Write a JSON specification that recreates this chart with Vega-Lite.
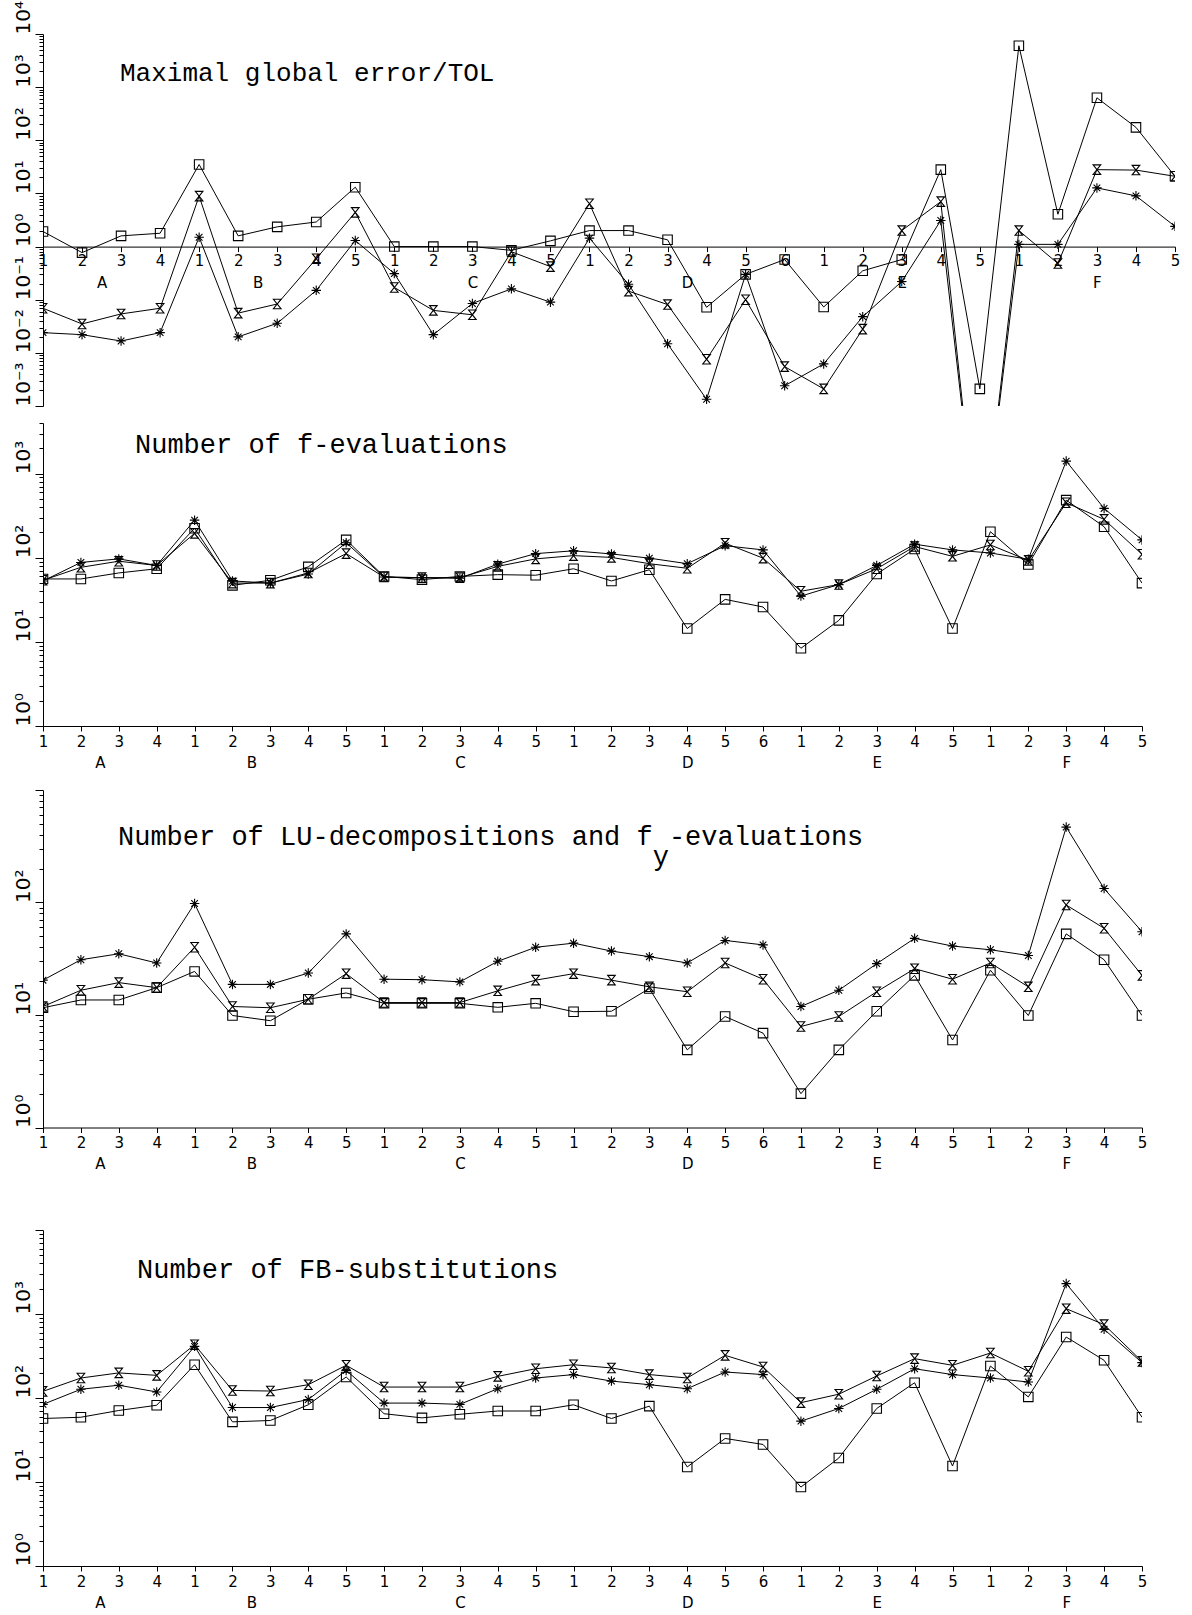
{
  "$schema": "https://vega.github.io/schema/vega-lite/v6.json",
  "background": "white",
  "padding": {"left": 12, "top": 0, "right": 5, "bottom": 5},
  "config": {"view": {"stroke": null}},
  "datasets": {
    "p1": [
      {"prob":"A1","i":0,"sq":1.92,"hg":0.069,"st":0.024},
      {"prob":"A2","i":1,"sq":0.77,"hg":0.035,"st":0.022},
      {"prob":"A3","i":2,"sq":1.59,"hg":0.054,"st":0.0167},
      {"prob":"A4","i":3,"sq":1.78,"hg":0.069,"st":0.024},
      {"prob":"B1","i":4,"sq":35,"hg":8.9,"st":1.5},
      {"prob":"B2","i":5,"sq":1.59,"hg":0.056,"st":0.020},
      {"prob":"B3","i":6,"sq":2.35,"hg":0.083,"st":0.036},
      {"prob":"B4","i":7,"sq":2.9,"hg":0.59,"st":0.15},
      {"prob":"B5","i":8,"sq":13.1,"hg":4.4,"st":1.3},
      {"prob":"C1","i":9,"sq":1.0,"hg":0.17,"st":0.31},
      {"prob":"C2","i":10,"sq":1.0,"hg":0.063,"st":0.022},
      {"prob":"C3","i":11,"sq":1.0,"hg":0.052,"st":0.085},
      {"prob":"C4","i":12,"sq":0.85,"hg":0.8,"st":0.16},
      {"prob":"C5","i":13,"sq":1.28,"hg":0.42,"st":0.09},
      {"prob":"D1","i":14,"sq":2.0,"hg":6.4,"st":1.44},
      {"prob":"D2","i":15,"sq":2.0,"hg":0.145,"st":0.195},
      {"prob":"D3","i":16,"sq":1.34,"hg":0.081,"st":0.0148},
      {"prob":"D4","i":17,"sq":0.072,"hg":0.0076,"st":0.00134},
      {"prob":"D5","i":18,"sq":0.30,"hg":0.10,"st":0.30},
      {"prob":"D6","i":19,"sq":0.57,"hg":0.0055,"st":0.0024},
      {"prob":"E1","i":20,"sq":0.073,"hg":0.0021,"st":0.0062},
      {"prob":"E2","i":21,"sq":0.35,"hg":0.028,"st":0.048},
      {"prob":"E3","i":22,"sq":0.57,"hg":2.0,"st":0.22},
      {"prob":"E4","i":23,"sq":28,"hg":7.0,"st":3.1},
      {"prob":"E5","i":24,"sq":0.0021,"hg":0.000001,"st":0.000001},
      {"prob":"F1","i":25,"sq":6000,"hg":2.0,"st":1.1},
      {"prob":"F2","i":26,"sq":4.06,"hg":0.48,"st":1.1},
      {"prob":"F3","i":27,"sq":630,"hg":28,"st":12.7},
      {"prob":"F4","i":28,"sq":175,"hg":27.5,"st":9},
      {"prob":"F5","i":29,"sq":21,"hg":21,"st":2.4}
    ],
    "p2": [
      {"prob":"A1","i":0,"sq":56,"hg":54,"st":53},
      {"prob":"A2","i":1,"sq":56,"hg":77,"st":88},
      {"prob":"A3","i":2,"sq":66,"hg":91,"st":97},
      {"prob":"A4","i":3,"sq":74,"hg":81,"st":81},
      {"prob":"B1","i":4,"sq":224,"hg":195,"st":280},
      {"prob":"B2","i":5,"sq":47,"hg":50,"st":53},
      {"prob":"B3","i":6,"sq":54,"hg":50,"st":50},
      {"prob":"B4","i":7,"sq":78,"hg":66,"st":64},
      {"prob":"B5","i":8,"sq":163,"hg":112,"st":151},
      {"prob":"C1","i":9,"sq":60,"hg":59,"st":59},
      {"prob":"C2","i":10,"sq":55,"hg":58,"st":58},
      {"prob":"C3","i":11,"sq":60,"hg":58,"st":57},
      {"prob":"C4","i":12,"sq":63,"hg":79,"st":84},
      {"prob":"C5","i":13,"sq":62,"hg":97,"st":112},
      {"prob":"D1","i":14,"sq":74,"hg":106,"st":121},
      {"prob":"D2","i":15,"sq":53,"hg":101,"st":111},
      {"prob":"D3","i":16,"sq":72,"hg":85,"st":99},
      {"prob":"D4","i":17,"sq":14.4,"hg":75,"st":85},
      {"prob":"D5","i":18,"sq":32,"hg":149,"st":139},
      {"prob":"D6","i":19,"sq":26,"hg":99,"st":124},
      {"prob":"E1","i":20,"sq":8.4,"hg":40,"st":35},
      {"prob":"E2","i":21,"sq":18,"hg":48,"st":48},
      {"prob":"E3","i":22,"sq":64,"hg":74,"st":81},
      {"prob":"E4","i":23,"sq":127,"hg":136,"st":145},
      {"prob":"E5","i":24,"sq":14.4,"hg":104,"st":124},
      {"prob":"F1","i":25,"sq":204,"hg":142,"st":114},
      {"prob":"F2","i":26,"sq":83,"hg":93,"st":96},
      {"prob":"F3","i":27,"sq":484,"hg":450,"st":1410},
      {"prob":"F4","i":28,"sq":234,"hg":286,"st":386},
      {"prob":"F5","i":29,"sq":50,"hg":110,"st":163}
    ],
    "p3": [
      {"prob":"A1","i":0,"sq":11.6,"hg":11.9,"st":20.4},
      {"prob":"A2","i":1,"sq":13.6,"hg":16.6,"st":31},
      {"prob":"A3","i":2,"sq":13.6,"hg":19.4,"st":35},
      {"prob":"A4","i":3,"sq":17.5,"hg":17.5,"st":29},
      {"prob":"B1","i":4,"sq":24.4,"hg":40,"st":98},
      {"prob":"B2","i":5,"sq":9.9,"hg":11.9,"st":18.7},
      {"prob":"B3","i":6,"sq":8.9,"hg":11.6,"st":18.7},
      {"prob":"B4","i":7,"sq":13.8,"hg":13.8,"st":23.6},
      {"prob":"B5","i":8,"sq":15.7,"hg":23.3,"st":52.6},
      {"prob":"C1","i":9,"sq":12.7,"hg":12.9,"st":20.8},
      {"prob":"C2","i":10,"sq":12.7,"hg":12.9,"st":20.6},
      {"prob":"C3","i":11,"sq":12.7,"hg":12.9,"st":19.7},
      {"prob":"C4","i":12,"sq":11.7,"hg":16.4,"st":30},
      {"prob":"C5","i":13,"sq":12.7,"hg":20.4,"st":40},
      {"prob":"D1","i":14,"sq":10.7,"hg":23.3,"st":43.5},
      {"prob":"D2","i":15,"sq":10.8,"hg":20.4,"st":37},
      {"prob":"D3","i":16,"sq":17.2,"hg":17.8,"st":33},
      {"prob":"D4","i":17,"sq":4.9,"hg":16.1,"st":29},
      {"prob":"D5","i":18,"sq":9.7,"hg":29,"st":46},
      {"prob":"D6","i":19,"sq":6.9,"hg":20.8,"st":42},
      {"prob":"E1","i":20,"sq":2.0,"hg":7.9,"st":11.9},
      {"prob":"E2","i":21,"sq":4.9,"hg":9.7,"st":16.6},
      {"prob":"E3","i":22,"sq":10.8,"hg":16.1,"st":28.6},
      {"prob":"E4","i":23,"sq":22.5,"hg":25.8,"st":48},
      {"prob":"E5","i":24,"sq":6.0,"hg":20.8,"st":41},
      {"prob":"F1","i":25,"sq":25,"hg":29,"st":38},
      {"prob":"F2","i":26,"sq":9.9,"hg":17.8,"st":33.8},
      {"prob":"F3","i":27,"sq":52.6,"hg":95,"st":468},
      {"prob":"F4","i":28,"sq":31,"hg":59,"st":133},
      {"prob":"F5","i":29,"sq":9.9,"hg":22.5,"st":55}
    ],
    "p4": [
      {"prob":"A1","i":0,"sq":57,"hg":120,"st":84},
      {"prob":"A2","i":1,"sq":59,"hg":173,"st":127},
      {"prob":"A3","i":2,"sq":71,"hg":199,"st":142},
      {"prob":"A4","i":3,"sq":82,"hg":186,"st":118},
      {"prob":"B1","i":4,"sq":249,"hg":431,"st":412},
      {"prob":"B2","i":5,"sq":52,"hg":123,"st":77},
      {"prob":"B3","i":6,"sq":54,"hg":121,"st":77},
      {"prob":"B4","i":7,"sq":83,"hg":144,"st":96},
      {"prob":"B5","i":8,"sq":178,"hg":245,"st":213},
      {"prob":"C1","i":9,"sq":65,"hg":135,"st":87},
      {"prob":"C2","i":10,"sq":58,"hg":135,"st":87},
      {"prob":"C3","i":11,"sq":64,"hg":135,"st":84},
      {"prob":"C4","i":12,"sq":70,"hg":181,"st":129},
      {"prob":"C5","i":13,"sq":70,"hg":223,"st":173},
      {"prob":"D1","i":14,"sq":83,"hg":249,"st":190},
      {"prob":"D2","i":15,"sq":57,"hg":228,"st":159},
      {"prob":"D3","i":16,"sq":80,"hg":190,"st":144},
      {"prob":"D4","i":17,"sq":15.1,"hg":173,"st":129},
      {"prob":"D5","i":18,"sq":33,"hg":322,"st":204},
      {"prob":"D6","i":19,"sq":28,"hg":234,"st":190},
      {"prob":"E1","i":20,"sq":8.7,"hg":88,"st":53},
      {"prob":"E2","i":21,"sq":19.3,"hg":111,"st":75},
      {"prob":"E3","i":22,"sq":75,"hg":183,"st":127},
      {"prob":"E4","i":23,"sq":152,"hg":294,"st":223},
      {"prob":"E5","i":24,"sq":15.5,"hg":245,"st":190},
      {"prob":"F1","i":25,"sq":240,"hg":343,"st":173},
      {"prob":"F2","i":26,"sq":103,"hg":208,"st":155},
      {"prob":"F3","i":27,"sq":532,"hg":1157,"st":2300},
      {"prob":"F4","i":28,"sq":281,"hg":747,"st":657},
      {"prob":"F5","i":29,"sq":59,"hg":273,"st":264}
    ]
  },
  "bounds": "flush",
  "spacing": 17,
  "vconcat": [
    {
      "width": 1132, "height": 372,
      "title": {"text": "Maximal global error/TOL", "anchor": "start", "frame": "group", "orient": "top", "offset": 0, "dx": 77, "dy": 98, "baseline": "middle", "font": "Liberation Mono", "fontSize": 26, "fontWeight": "normal", "color": "black"},
      "data": {"name": "p1"},
      "transform": [{"fold": ["sq", "hg", "st"], "as": ["s", "v"]}],
      "encoding": {
        "x": {"field": "i", "type": "quantitative", "scale": {"domain": [0, 29], "nice": false, "zero": false},
          "axis": {"values": [0,1,1.5,2,3,4,5,5.5,6,7,8,9,10,11,12,13,14,15,16,16.5,17,18,19,20,21,22,23,24,25,26,27,28,29],
            "labelExpr": "datum.value == 1.5 ? ['', 'A'] : datum.value == 5.5 ? ['', 'B'] : datum.value == 16.5 ? ['', 'D'] : ['' + (datum.value < 4 ? datum.value + 1 : datum.value < 9 ? datum.value - 3 : datum.value < 14 ? datum.value - 8 : datum.value < 20 ? datum.value - 13 : datum.value < 25 ? datum.value - 19 : datum.value - 24), datum.value == 11 ? 'C' : datum.value == 22 ? 'E' : datum.value == 27 ? 'F' : '']",
            "offset": -159.4, "title": null, "grid": false, "tickSize": 5,
            "tickColor": {"condition": {"test": "datum.value % 1 != 0", "value": "transparent"}, "value": "black"},
            "domainColor": "black", "labelFont": "DejaVu Sans", "labelFontSize": 15, "labelColor": "black", "labelLineHeight": 22, "labelPadding": 2,
            "labelOverlap": false, "labelFlush": false, "labelBound": false, "labelAlign": "center", "labelBaseline": "top"}},
        "y": {"field": "v", "type": "quantitative", "scale": {"type": "log", "domain": [0.001, 10000], "nice": false},
          "axis": {"values": [0.001,0.002,0.003,0.004,0.005,0.006,0.007,0.008,0.009,0.01,0.02,0.03,0.04,0.05,0.06,0.07,0.08,0.09,0.1,0.2,0.3,0.4,0.5,0.6,0.7,0.8,0.9,1,2,3,4,5,6,7,8,9,10,20,30,40,50,60,70,80,90,100,200,300,400,500,600,700,800,900,1000,2000,3000,4000,5000,6000,7000,8000,9000,10000],
            "labelExpr": "abs(log(datum.value)/LN10 - round(log(datum.value)/LN10)) > 0.01 ? '' : '10' + (datum.value < 0.5 ? '⁻' : '') + substring('⁰¹²³⁴⁵⁶⁷⁸⁹', abs(round(log(datum.value)/LN10)), abs(round(log(datum.value)/LN10)) + 1)",
            "title": null, "grid": false,
            "tickSize": {"condition": {"test": "abs(log(datum.value)/LN10 - round(log(datum.value)/LN10)) < 0.01", "value": 8}, "value": 4},
            "tickColor": "black", "domainColor": "black", "labelAngle": 270, "labelAlign": "left", "labelBaseline": "bottom", "labelPadding": 2,
            "labelFont": "DejaVu Sans", "labelFontSize": 20, "labelColor": "black", "labelOverlap": false, "labelFlush": false, "labelBound": false}}
      },
      "layer": [
        {"mark": {"type": "line", "color": "black", "strokeWidth": 1, "clip": true}, "encoding": {"detail": {"field": "s"}}},
        {"mark": {"type": "point", "filled": false, "color": "black", "strokeWidth": 1.1, "size": 90, "clip": true, "opacity": 1},
          "encoding": {"shape": {"field": "s", "type": "nominal", "legend": null, "scale": {"domain": ["sq", "hg", "st"], "range": ["square", "M-0.8,-1L0.8,-1L-0.8,1L0.8,1Z", "M-1,0L1,0M0,-1L0,1M-0.7,-0.7L0.7,0.7M-0.7,0.7L0.7,-0.7"]}}}}
      ]
    },
    {
      "width": 1099, "height": 303,
      "title": {"text": "Number of f-evaluations", "anchor": "start", "frame": "group", "orient": "top", "offset": 0, "dx": 92, "dy": 49, "baseline": "middle", "font": "Liberation Mono", "fontSize": 27, "fontWeight": "normal", "color": "black"},
      "data": {"name": "p2"},
      "transform": [{"fold": ["sq", "hg", "st"], "as": ["s", "v"]}],
      "encoding": {
        "x": {"field": "i", "type": "quantitative", "scale": {"domain": [0, 29], "nice": false, "zero": false},
          "axis": {"values": [0,1,1.5,2,3,4,5,5.5,6,7,8,9,10,11,12,13,14,15,16,17,18,19,20,21,22,23,24,25,26,27,28,29],
            "labelExpr": "datum.value == 1.5 ? ['', 'A'] : datum.value == 5.5 ? ['', 'B'] : ['' + (datum.value < 4 ? datum.value + 1 : datum.value < 9 ? datum.value - 3 : datum.value < 14 ? datum.value - 8 : datum.value < 20 ? datum.value - 13 : datum.value < 25 ? datum.value - 19 : datum.value - 24), datum.value == 11 ? 'C' : datum.value == 17 ? 'D' : datum.value == 22 ? 'E' : datum.value == 27 ? 'F' : '']",
            "title": null, "grid": false, "tickSize": 5,
            "tickColor": {"condition": {"test": "datum.value % 1 != 0", "value": "transparent"}, "value": "black"},
            "domainColor": "black", "labelFont": "DejaVu Sans", "labelFontSize": 15, "labelColor": "black", "labelLineHeight": 21, "labelPadding": 3,
            "labelOverlap": false, "labelFlush": false, "labelBound": false, "labelAlign": "center", "labelBaseline": "top"}},
        "y": {"field": "v", "type": "quantitative", "scale": {"type": "log", "domain": [1, 4000], "nice": false},
          "axis": {"values": [1,2,3,4,5,6,7,8,9,10,20,30,40,50,60,70,80,90,100,200,300,400,500,600,700,800,900,1000,2000,3000,4000],
            "labelExpr": "abs(log(datum.value)/LN10 - round(log(datum.value)/LN10)) > 0.01 ? '' : '10' + substring('⁰¹²³⁴⁵⁶⁷⁸⁹', abs(round(log(datum.value)/LN10)), abs(round(log(datum.value)/LN10)) + 1)",
            "title": null, "grid": false,
            "tickSize": {"condition": {"test": "abs(log(datum.value)/LN10 - round(log(datum.value)/LN10)) < 0.01", "value": 8}, "value": 4},
            "tickColor": "black", "domainColor": "black", "labelAngle": 270, "labelAlign": "left", "labelBaseline": "bottom", "labelPadding": 2,
            "labelFont": "DejaVu Sans", "labelFontSize": 20, "labelColor": "black", "labelOverlap": false, "labelFlush": false, "labelBound": false}}
      },
      "layer": [
        {"mark": {"type": "line", "color": "black", "strokeWidth": 1, "clip": true}, "encoding": {"detail": {"field": "s"}}},
        {"mark": {"type": "point", "filled": false, "color": "black", "strokeWidth": 1.1, "size": 90, "clip": true, "opacity": 1},
          "encoding": {"shape": {"field": "s", "type": "nominal", "legend": null, "scale": {"domain": ["sq", "hg", "st"], "range": ["square", "M-0.8,-1L0.8,-1L-0.8,1L0.8,1Z", "M-1,0L1,0M0,-1L0,1M-0.7,-0.7L0.7,0.7M-0.7,0.7L0.7,-0.7"]}}}}
      ]
    },
    {"width": 1099, "height": 30, "data": {"values": []}, "mark": {"type": "point", "opacity": 0}},
    {
      "width": 1099, "height": 337.5,
      "title": {"text": ["Number of LU-decompositions and f\u00a0-evaluations", "\u200b\u00a0\u00a0\u00a0\u00a0\u00a0\u00a0\u00a0\u00a0\u00a0\u00a0\u00a0\u00a0\u00a0\u00a0\u00a0\u00a0\u00a0\u00a0\u00a0\u00a0\u00a0\u00a0\u00a0\u00a0\u00a0\u00a0\u00a0\u00a0\u00a0\u00a0\u00a0\u00a0\u00a0y"], "lineHeight": 20, "anchor": "start", "frame": "group", "orient": "top", "offset": 0, "dx": 75, "dy": 94, "baseline": "middle", "font": "Liberation Mono", "fontSize": 27, "fontWeight": "normal", "color": "black"},
      "data": {"name": "p3"},
      "transform": [{"fold": ["sq", "hg", "st"], "as": ["s", "v"]}],
      "encoding": {
        "x": {"field": "i", "type": "quantitative", "scale": {"domain": [0, 29], "nice": false, "zero": false},
          "axis": {"values": [0,1,1.5,2,3,4,5,5.5,6,7,8,9,10,11,12,13,14,15,16,17,18,19,20,21,22,23,24,25,26,27,28,29],
            "labelExpr": "datum.value == 1.5 ? ['', 'A'] : datum.value == 5.5 ? ['', 'B'] : ['' + (datum.value < 4 ? datum.value + 1 : datum.value < 9 ? datum.value - 3 : datum.value < 14 ? datum.value - 8 : datum.value < 20 ? datum.value - 13 : datum.value < 25 ? datum.value - 19 : datum.value - 24), datum.value == 11 ? 'C' : datum.value == 17 ? 'D' : datum.value == 22 ? 'E' : datum.value == 27 ? 'F' : '']",
            "title": null, "grid": false, "tickSize": 5,
            "tickColor": {"condition": {"test": "datum.value % 1 != 0", "value": "transparent"}, "value": "black"},
            "domainColor": "black", "labelFont": "DejaVu Sans", "labelFontSize": 15, "labelColor": "black", "labelLineHeight": 21, "labelPadding": 3,
            "labelOverlap": false, "labelFlush": false, "labelBound": false, "labelAlign": "center", "labelBaseline": "top"}},
        "y": {"field": "v", "type": "quantitative", "scale": {"type": "log", "domain": [1, 1000], "nice": false},
          "axis": {"values": [1,2,3,4,5,6,7,8,9,10,20,30,40,50,60,70,80,90,100,200,300,400,500,600,700,800,900,1000],
            "labelExpr": "datum.value > 999 || abs(log(datum.value)/LN10 - round(log(datum.value)/LN10)) > 0.01 ? '' : '10' + substring('⁰¹²³⁴⁵⁶⁷⁸⁹', abs(round(log(datum.value)/LN10)), abs(round(log(datum.value)/LN10)) + 1)",
            "title": null, "grid": false,
            "tickSize": {"condition": {"test": "abs(log(datum.value)/LN10 - round(log(datum.value)/LN10)) < 0.01", "value": 8}, "value": 4},
            "tickColor": "black", "domainColor": "black", "labelAngle": 270, "labelAlign": "left", "labelBaseline": "bottom", "labelPadding": 2,
            "labelFont": "DejaVu Sans", "labelFontSize": 20, "labelColor": "black", "labelOverlap": false, "labelFlush": false, "labelBound": false}}
      },
      "layer": [
        {"mark": {"type": "line", "color": "black", "strokeWidth": 1, "clip": true}, "encoding": {"detail": {"field": "s"}}},
        {"mark": {"type": "point", "filled": false, "color": "black", "strokeWidth": 1.1, "size": 90, "clip": true, "opacity": 1},
          "encoding": {"shape": {"field": "s", "type": "nominal", "legend": null, "scale": {"domain": ["sq", "hg", "st"], "range": ["square", "M-0.8,-1L0.8,-1L-0.8,1L0.8,1Z", "M-1,0L1,0M0,-1L0,1M-0.7,-0.7L0.7,0.7M-0.7,0.7L0.7,-0.7"]}}}}
      ]
    },
    {"width": 1099, "height": 67.5, "data": {"values": []}, "mark": {"type": "point", "opacity": 0}},
    {
      "width": 1099, "height": 336,
      "title": {"text": "Number of FB-substitutions", "anchor": "start", "frame": "group", "orient": "top", "offset": 0, "dx": 94, "dy": 67, "baseline": "middle", "font": "Liberation Mono", "fontSize": 27, "fontWeight": "normal", "color": "black"},
      "data": {"name": "p4"},
      "transform": [{"fold": ["sq", "hg", "st"], "as": ["s", "v"]}],
      "encoding": {
        "x": {"field": "i", "type": "quantitative", "scale": {"domain": [0, 29], "nice": false, "zero": false},
          "axis": {"values": [0,1,1.5,2,3,4,5,5.5,6,7,8,9,10,11,12,13,14,15,16,17,18,19,20,21,22,23,24,25,26,27,28,29],
            "labelExpr": "datum.value == 1.5 ? ['', 'A'] : datum.value == 5.5 ? ['', 'B'] : ['' + (datum.value < 4 ? datum.value + 1 : datum.value < 9 ? datum.value - 3 : datum.value < 14 ? datum.value - 8 : datum.value < 20 ? datum.value - 13 : datum.value < 25 ? datum.value - 19 : datum.value - 24), datum.value == 11 ? 'C' : datum.value == 17 ? 'D' : datum.value == 22 ? 'E' : datum.value == 27 ? 'F' : '']",
            "title": null, "grid": false, "tickSize": 5,
            "tickColor": {"condition": {"test": "datum.value % 1 != 0", "value": "transparent"}, "value": "black"},
            "domainColor": "black", "labelFont": "DejaVu Sans", "labelFontSize": 15, "labelColor": "black", "labelLineHeight": 21, "labelPadding": 3,
            "labelOverlap": false, "labelFlush": false, "labelBound": false, "labelAlign": "center", "labelBaseline": "top"}},
        "y": {"field": "v", "type": "quantitative", "scale": {"type": "log", "domain": [1, 10000], "nice": false},
          "axis": {"values": [1,2,3,4,5,6,7,8,9,10,20,30,40,50,60,70,80,90,100,200,300,400,500,600,700,800,900,1000,2000,3000,4000,5000,6000,7000,8000,9000,10000],
            "labelExpr": "datum.value > 9999 || abs(log(datum.value)/LN10 - round(log(datum.value)/LN10)) > 0.01 ? '' : '10' + substring('⁰¹²³⁴⁵⁶⁷⁸⁹', abs(round(log(datum.value)/LN10)), abs(round(log(datum.value)/LN10)) + 1)",
            "title": null, "grid": false,
            "tickSize": {"condition": {"test": "abs(log(datum.value)/LN10 - round(log(datum.value)/LN10)) < 0.01", "value": 8}, "value": 4},
            "tickColor": "black", "domainColor": "black", "labelAngle": 270, "labelAlign": "left", "labelBaseline": "bottom", "labelPadding": 2,
            "labelFont": "DejaVu Sans", "labelFontSize": 20, "labelColor": "black", "labelOverlap": false, "labelFlush": false, "labelBound": false}}
      },
      "layer": [
        {"mark": {"type": "line", "color": "black", "strokeWidth": 1, "clip": true}, "encoding": {"detail": {"field": "s"}}},
        {"mark": {"type": "point", "filled": false, "color": "black", "strokeWidth": 1.1, "size": 90, "clip": true, "opacity": 1},
          "encoding": {"shape": {"field": "s", "type": "nominal", "legend": null, "scale": {"domain": ["sq", "hg", "st"], "range": ["square", "M-0.8,-1L0.8,-1L-0.8,1L0.8,1Z", "M-1,0L1,0M0,-1L0,1M-0.7,-0.7L0.7,0.7M-0.7,0.7L0.7,-0.7"]}}}}
      ]
    }
  ]
}
